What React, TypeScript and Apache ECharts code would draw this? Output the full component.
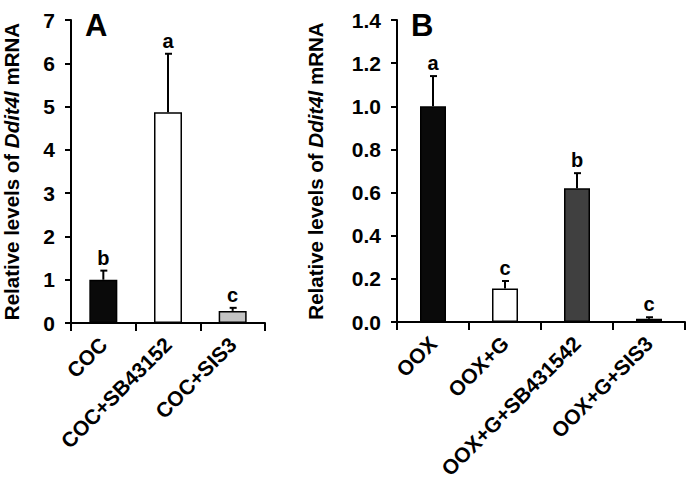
import React, { useEffect, useRef } from "react";
import * as echarts from "echarts";

const catsA = ["COC", "COC+SB43152", "COC+SIS3"];
const valsA = [1.0, 4.87, 0.28];
const errA = [1.21, 6.22, 0.35];
const lettersA = ["b", "a", "c"];
const colorsA = ["#0a0a0a", "#ffffff", "#c4c4c4"];

const catsB = ["OOX", "OOX+G", "OOX+G+SB431542", "OOX+G+SIS3"];
const valsB = [1.0, 0.155, 0.62, 0.015];
const errB = [1.14, 0.19, 0.69, 0.022];
const lettersB = ["a", "c", "b", "c"];
const colorsB = ["#0a0a0a", "#ffffff", "#404040", "#0a0a0a"];

const ticksA = { min: 0, max: 7, interval: 1 };
const ticksB = { min: 0, max: 1.4, interval: 0.2 };

const FONT = "Liberation Sans, Arial, sans-serif";

function lettersFor(idx: number) {
  return idx === 0 ? lettersA : lettersB;
}

function errSeries(idx: number, vals: number[], errs: number[]) {
  return {
    type: "custom",
    xAxisIndex: idx,
    yAxisIndex: idx,
    z: 5,
    data: vals.map((v, i) => [i, v, errs[i]]),
    renderItem: (params: any, api: any) => {
      const i = api.value(0);
      const p0 = api.coord([i, api.value(1)]);
      const p1 = api.coord([i, api.value(2)]);
      const letter = lettersFor(idx)[params.dataIndex];
      return {
        type: "group",
        children: [
          { type: "line", shape: { x1: p0[0], y1: p0[1], x2: p1[0], y2: p1[1] }, style: { stroke: "#000", lineWidth: 2 } },
          { type: "line", shape: { x1: p0[0] - 3, y1: p1[1], x2: p0[0] + 4, y2: p1[1] }, style: { stroke: "#000", lineWidth: 2 } },
          {
            type: "text",
            x: p0[0],
            y: p1[1] - 3,
            style: { text: letter, fill: "#000", font: `bold 20px ${FONT}`, align: "center", verticalAlign: "bottom" },
          },
        ],
      };
    },
  };
}

function xAxis(idx: number, cats: string[]) {
  return {
    type: "category",
    gridIndex: idx,
    data: cats,
    axisLine: { lineStyle: { color: "#000", width: 2 } },
    axisTick: { show: true, length: 8, lineStyle: { color: "#000", width: 2 } },
    axisLabel: { rotate: 45, color: "#000", fontFamily: FONT, fontWeight: "bold", fontSize: 21, margin: 18, interval: 0 },
  };
}

function yAxis(idx: number, t: { min: number; max: number; interval: number }, gap: number, fmt: (v: number) => string) {
  return {
    type: "value",
    gridIndex: idx,
    min: t.min,
    max: t.max,
    interval: t.interval,
    name: "Relative levels of {i|Ddit4l} mRNA",
    nameLocation: "middle",
    nameGap: gap,
    nameTextStyle: {
      color: "#000",
      fontFamily: FONT,
      fontWeight: "bold",
      fontSize: 20.5,
      rich: { i: { fontStyle: "italic", fontWeight: "bold", fontFamily: FONT, fontSize: 20.5, color: "#000" } },
    },
    splitLine: { show: false },
    axisLine: { show: true, lineStyle: { color: "#000", width: 2 } },
    axisTick: { show: true, length: 6, lineStyle: { color: "#000", width: 2 } },
    axisLabel: { color: "#000", fontFamily: FONT, fontWeight: "bold", fontSize: 21, margin: 16, formatter: fmt },
  };
}

function barSeries(idx: number, vals: number[], colors: string[], width: number) {
  return {
    type: "bar",
    xAxisIndex: idx,
    yAxisIndex: idx,
    barWidth: width,
    data: vals.map((v, i) => ({ value: v, itemStyle: { color: colors[i], borderColor: "#000", borderWidth: 1.5 } })),
  };
}

export default function App() {
  const ref = useRef<HTMLDivElement>(null);
  useEffect(() => {
    if (!ref.current) return;
    const chart = echarts.init(ref.current, null, { renderer: "svg" });
    chart.setOption({
      animation: false,
      backgroundColor: "#fff",
      grid: [
        { left: 70, right: 425, top: 20, bottom: 159 },
        { left: 397, right: 5, top: 20, bottom: 160 },
      ],
      xAxis: [xAxis(0, catsA), xAxis(1, catsB)],
      yAxis: [
        yAxis(0, ticksA, 49, (v: number) => String(v)),
        yAxis(1, ticksB, 71, (v: number) => v.toFixed(1)),
      ],
      graphic: [
        { type: "text", left: 85, top: 10, style: { text: "A", font: `bold 31px ${FONT}`, fill: "#000" } },
        { type: "text", left: 411, top: 10, style: { text: "B", font: `bold 31px ${FONT}`, fill: "#000" } },
      ],
      series: [
        barSeries(0, valsA, colorsA, 28),
        errSeries(0, valsA, errA),
        barSeries(1, valsB, colorsB, 26),
        errSeries(1, valsB, errB),
      ],
    });
    return () => chart.dispose();
  }, []);
  return <div ref={ref} style={{ position: "absolute", left: 0, top: 0, width: 690, height: 482 }} />;
}
